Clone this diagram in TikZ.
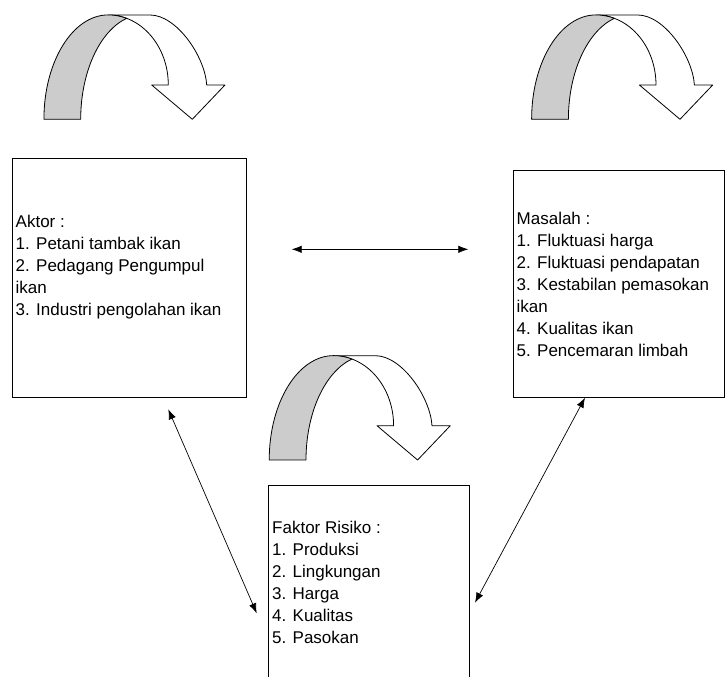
\documentclass[tikz,border=0pt]{standalone}
\usepackage{fontspec}
\setmainfont{Liberation Sans}
\usetikzlibrary{arrows.meta}
\definecolor{bandgray}{RGB}{204,204,204}
\tikzset{
  box/.style={draw=black, line width=0.8pt, rectangle, inner sep=0pt, outer sep=0pt},
  boxtext/.style={anchor=north west, inner sep=0pt, align=left, font=\fontsize{17}{22}\selectfont},
  conn/.style={line width=0.7pt, {Latex[length=10pt,width=7.5pt]}-{Latex[length=10pt,width=7.5pt]}},
  curvarrow/.pic={
    \filldraw[fill=white, line width=0.8pt, line join=round]
      (64.3,104.3) -- (106,104.3) .. controls (132.7,104.3) and (161,62.7) .. (162.7,34.3)
      -- (181,34.3) -- (148.3,0) -- (107.7,34.3) -- (124.3,34.3)
      arc[start angle=0, end angle=90, x radius=60pt, y radius=70pt] -- cycle;
    \filldraw[fill=bandgray, line width=0.8pt, line join=round]
      (0,0) -- (36.7,0)
      arc[start angle=180, end angle=105.9, x radius=63.3pt, y radius=105pt]
      arc[start angle=72.1, end angle=90, x radius=60pt, y radius=70pt]
      arc[start angle=90, end angle=180, x radius=64.3pt, y radius=104.3pt] -- cycle;
  }
}
\begin{document}
\begin{tikzpicture}[x=1pt, y=1pt]
\clip (0,0) rectangle (726,677);
\fill[white] (0,0) rectangle (726,677);
% curved arrows
\pic at (44,557.7) {curvarrow};
\pic at (531.7,557.7) {curvarrow};
\pic at (269.3,217) {curvarrow};
% boxes
\node[box, minimum width=234.2pt, minimum height=239.3pt] (aktor) at (129.6,399.35) {};
\node[box, minimum width=211pt, minimum height=227.3pt] (masalah) at (618.5,393.35) {};
\node[box, minimum width=200.7pt, minimum height=212pt] (faktor) at (368.65,86) {};
% texts
\node[boxtext] (aktortext) at (15.5,461.7) {Aktor :\\1. Petani tambak ikan\\2. Pedagang Pengumpul\\ikan\\3. Industri pengolahan ikan};
\node[boxtext] (masalahtext) at (516.5,465.3) {Masalah :\\1. Fluktuasi harga\\2. Fluktuasi pendapatan\\3. Kestabilan pemasokan\\ikan\\4. Kualitas ikan\\5. Pencemaran limbah};
\node[boxtext] (faktortext) at (272,156.3) {Faktor Risiko :\\1. Produksi\\2. Lingkungan\\3. Harga\\4. Kualitas\\5. Pasokan};
% connector ends
\coordinate (h1) at (291.7,427.7);
\coordinate (h2) at (468.3,427.7);
\coordinate (d1) at (168.3,267.7);
\coordinate (d2) at (256.7,63.7);
\coordinate (e1) at (585,279.3);
\coordinate (e2) at (475,74.3);
\draw[conn] (h1) -- (h2);
\draw[conn] (d1) -- (d2);
\draw[conn] (e1) -- (e2);
\end{tikzpicture}
\end{document}
